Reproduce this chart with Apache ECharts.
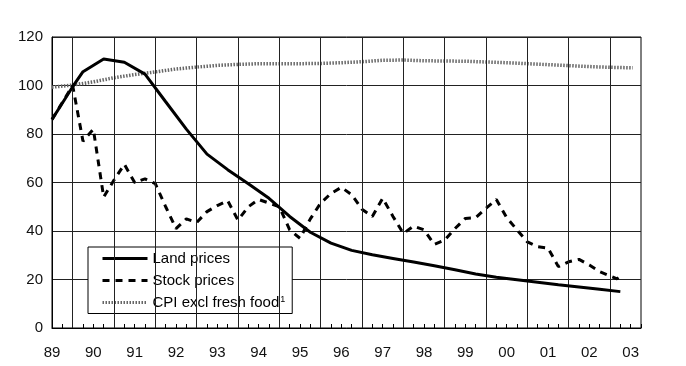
<!DOCTYPE html>
<html><head><meta charset="utf-8">
<script src="https://cdn.jsdelivr.net/npm/echarts@6/dist/echarts.min.js"></script>
<style>html,body{margin:0;padding:0;background:#fff}#c{width:686px;height:366px}</style>
</head><body><div id="c"></div>
<script>
// x tick labels (centred on each year) and year boundaries with grid lines
const xTickLabels = ['89','90','91','92','93','94','95','96','97','98','99','00','01','02','03'];
const yearLines = [1990,1991,1992,1993,1994,1995,1996,1997,1998,1999,2000,2001,2002,2003];
const seriesNames = ['Land prices', 'Stock prices', 'CPI excl fresh food'];

// [year fraction, index value]
const landPrices = [[1989.5,86],[1990,99.5],[1990.25,105.7],[1990.75,110.9],[1991.25,109.6],[1991.75,104.7],
  [1992.25,93.3],[1992.75,82],[1993.25,71.7],[1993.75,65.3],[1994.25,59.5],[1994.75,53.5],[1995.25,46],
  [1995.75,39.5],[1996.25,35],[1996.75,32],[1997.25,30.2],[1997.75,28.7],[1998.25,27.2],[1998.75,25.7],
  [1999.25,24],[1999.75,22.3],[2000.25,20.9],[2000.75,19.9],[2001.25,18.9],[2001.75,17.8],[2002.25,16.9],
  [2002.75,16],[2003.25,15]];

const stockPrices = [[1989.5,86],[1989.75,93],[1990,100],[1990.25,77],[1990.5,82],[1990.75,54],[1991,61],
  [1991.25,67.5],[1991.5,60],[1991.75,61.5],[1992,59.5],[1992.25,50],[1992.5,41],[1992.75,45],[1993,43.5],
  [1993.25,48],[1993.5,50.5],[1993.75,52.5],[1994,44.5],[1994.25,50],[1994.5,53],[1994.75,51.5],[1995,50],
  [1995.25,40.5],[1995.5,37],[1995.75,45],[1996,51.5],[1996.25,55.5],[1996.5,58],[1996.75,55],[1997,49],
  [1997.25,46],[1997.5,53.5],[1997.75,46],[1998,39],[1998.25,42],[1998.5,40.5],[1998.75,34.5],[1999,36.3],
  [1999.25,41],[1999.5,45.2],[1999.75,45.5],[2000,49.4],[2000.25,53],[2000.5,45.5],[2000.75,40.5],[2001,35.5],
  [2001.25,33.5],[2001.5,33],[2001.75,25.3],[2002,27.3],[2002.25,28.3],[2002.5,26],[2002.75,23.2],[2003,21.5],
  [2003.17,20.3],[2003.33,22]];

const cpiExFresh = [[1989.5,99.3],[1990,100.2],[1990.5,101.5],[1991,103.2],[1991.5,104.5],[1992,105.6],
  [1992.5,106.8],[1993,107.6],[1993.5,108.3],[1994,108.7],[1994.5,109],[1995,109],[1995.5,109],[1996,109.1],
  [1996.5,109.4],[1997,109.8],[1997.5,110.4],[1998,110.5],[1998.5,110.2],[1999,110.1],[1999.5,110],[2000,109.7],
  [2000.5,109.4],[2001,109],[2001.5,108.6],[2002,108.2],[2002.5,107.8],[2003,107.5],[2003.55,107.3]];

const FONT = '"Liberation Sans", Arial, sans-serif';
const chart = echarts.init(document.getElementById('c'), null, {renderer: 'canvas'});
chart.setOption({
  animation: false,
  backgroundColor: '#fff',
  grid: {left: 52, right: 45, top: 37, bottom: 38, show: true, borderColor: '#000', borderWidth: 1, backgroundColor: 'transparent'},
  xAxis: {
    type: 'value', min: 1989.5, max: 2003.75, interval: 0.25,
    axisLine: {show: true, lineStyle: {color: '#000', width: 1}},
    axisTick: {show: true, inside: true, length: 4, lineStyle: {color: '#000'}},
    splitLine: {show: false},
    axisLabel: {
      margin: 17, fontSize: 15, color: '#111', fontFamily: FONT,
      formatter: function (v) {
        const f = v - Math.floor(v);
        if (Math.abs(f - 0.5) > 1e-6) return '';
        const i = Math.round(v - 1989.5);
        return xTickLabels[i] || '';
      }
    }
  },
  yAxis: {
    type: 'value', min: 0, max: 120, interval: 20,
    axisLine: {show: true, lineStyle: {color: '#000'}},
    axisTick: {show: false},
    splitLine: {show: true, lineStyle: {color: '#222', width: 1}},
    axisLabel: {margin: 9, fontSize: 15, color: '#111', fontFamily: FONT}
  },
  legend: {
    orient: 'vertical', left: 88, top: 247,
    data: seriesNames,
    itemWidth: 45, itemHeight: 14, itemGap: 7,
    padding: [4, 7, 1, 13],
    borderColor: '#000', borderWidth: 1, backgroundColor: '#fff',
    itemStyle: {opacity: 0},
    lineStyle: {width: 3},
    textStyle: {fontSize: 15, color: '#000', fontFamily: FONT,
      rich: {n: {fontSize: 15, color: '#000', fontFamily: FONT, lineHeight: 14},
             s: {fontSize: 9, color: '#000', fontFamily: FONT, verticalAlign: 'top', lineHeight: 14, padding: [0, 0, 8, 1]}}},
    formatter: function (name) {
      return name === 'CPI excl fresh food' ? '{n|' + name + '}{s|1}' : '{n|' + name + '}';
    }
  },
  series: [
    {type: 'line', name: 'gridYears', data: [], silent: true, z: 1,
      markLine: {silent: true, symbol: ['none', 'none'], label: {show: false},
        lineStyle: {color: '#222', width: 1, type: 'solid'},
        data: yearLines.map(y => ({xAxis: y}))}},
    {type: 'line', name: seriesNames[2], data: cpiExFresh, symbol: 'none', z: 3, color: '#555',
      lineStyle: {color: '#666', width: 3.5, type: [1.5, 1.5]}},
    {type: 'line', name: seriesNames[1], data: stockPrices, symbol: 'none', z: 4, color: '#000',
      lineStyle: {color: '#000', width: 3, type: [7, 6]}},
    {type: 'line', name: seriesNames[0], data: landPrices, symbol: 'none', z: 5, color: '#000',
      lineStyle: {color: '#000', width: 3, type: 'solid'}}
  ]
});
</script></body></html>
